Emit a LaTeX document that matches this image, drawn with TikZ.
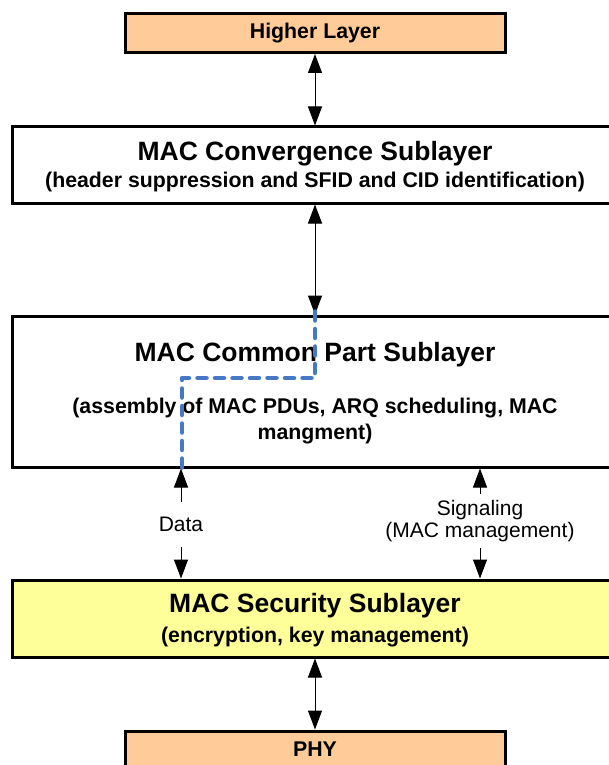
\documentclass[tikz,border=0pt]{standalone}
\usepackage{fontspec}
\setmainfont{Liberation Sans}
\usetikzlibrary{arrows.meta}
\definecolor{peach}{RGB}{255,204,153}
\definecolor{paleyellow}{RGB}{255,255,153}
\definecolor{dashblue}{RGB}{70,120,200}
\tikzset{
  layerbox/.style={draw=black, line width=3pt, rectangle, inner sep=0pt},
  titletext/.style={font=\bfseries\fontsize{26.5}{31}\selectfont, anchor=base, inner sep=0pt},
  subtext/.style={font=\bfseries\fontsize{21.3}{26}\selectfont, anchor=base, inner sep=0pt},
  labeltext/.style={font=\fontsize{21}{22.5}\selectfont, fill=white, inner sep=1pt, align=center},
  biarrow/.style={line width=1pt, {Triangle[length=19pt,width=14pt]}-{Triangle[length=19pt,width=14pt]}},
  onearrow/.style={line width=1pt, -{Triangle[length=19pt,width=14pt]}},
  bluedash/.style={draw=dashblue, line width=4.5pt, line cap=round, line join=round, dash pattern=on 9pt off 8.5pt}
}
\begin{document}
\begin{tikzpicture}[x=1pt,y=-1pt]
\useasboundingbox (0,0) rectangle (609,765);
\clip (0,0) rectangle (609,765);
\fill[white] (0,0) rectangle (609,765);
% boxes
\node[layerbox, fill=peach, minimum width=380pt, minimum height=39pt] (hl) at (315,33) {};
\node[layerbox, fill=white, minimum width=606pt, minimum height=76pt] (conv) at (315,165) {};
\node[layerbox, fill=white, minimum width=606pt, minimum height=151pt] (common) at (315,391.5) {};
\node[layerbox, fill=paleyellow, minimum width=606pt, minimum height=77pt] (sec) at (315,618.5) {};
\node[layerbox, fill=peach, minimum width=380pt, minimum height=39pt] (phy) at (315,750.5) {};
% texts
\node[subtext] (hlt) at (315,38.5) {Higher Layer};
\node[titletext] (convt) at (315,160) {MAC Convergence Sublayer};
\node[subtext] (convs) at (315,187.5) {(header suppression and SFID and CID identification)};
\node[titletext] (comt) at (315,361) {MAC Common Part Sublayer};
\node[subtext] (coms1) at (315,413.5) {(assembly of MAC PDUs, ARQ scheduling, MAC};
\node[subtext] (coms2) at (315,439.5) {mangment)};
\node[titletext] (sect) at (315,612.5) {MAC Security Sublayer};
\node[subtext] (secs) at (315,642.5) {(encryption, key management)};
\node[subtext] (phyt) at (315,756.5) {PHY};
% arrows
\draw[biarrow] (hl.south) -- (conv.north);
\draw[biarrow] (conv.south) -- (common.north);
\draw[biarrow] (sec.south) -- (phy.north);
% data / signaling labels
\node[labeltext, minimum height=44pt] (datal) at (181,524.5) {Data};
\node[labeltext, minimum height=54pt] (sigl) at (480,521) {Signaling\\(MAC management)};
\draw[onearrow] (datal.north) -- (datal.north |- common.south);
\draw[onearrow] (datal.south) -- (datal.south |- sec.north);
\draw[onearrow] (sigl.north) -- (sigl.north |- common.south);
\draw[onearrow] (sigl.south) -- (sigl.south |- sec.north);
% blue dashed path
\coordinate (b1) at (315,378);
\coordinate (b2) at (182,378);
\draw[bluedash] ([yshift=3pt]common.north) -- (b1) -- (b2) -- ([yshift=-1pt]b2 |- common.south);
\end{tikzpicture}
\end{document}
